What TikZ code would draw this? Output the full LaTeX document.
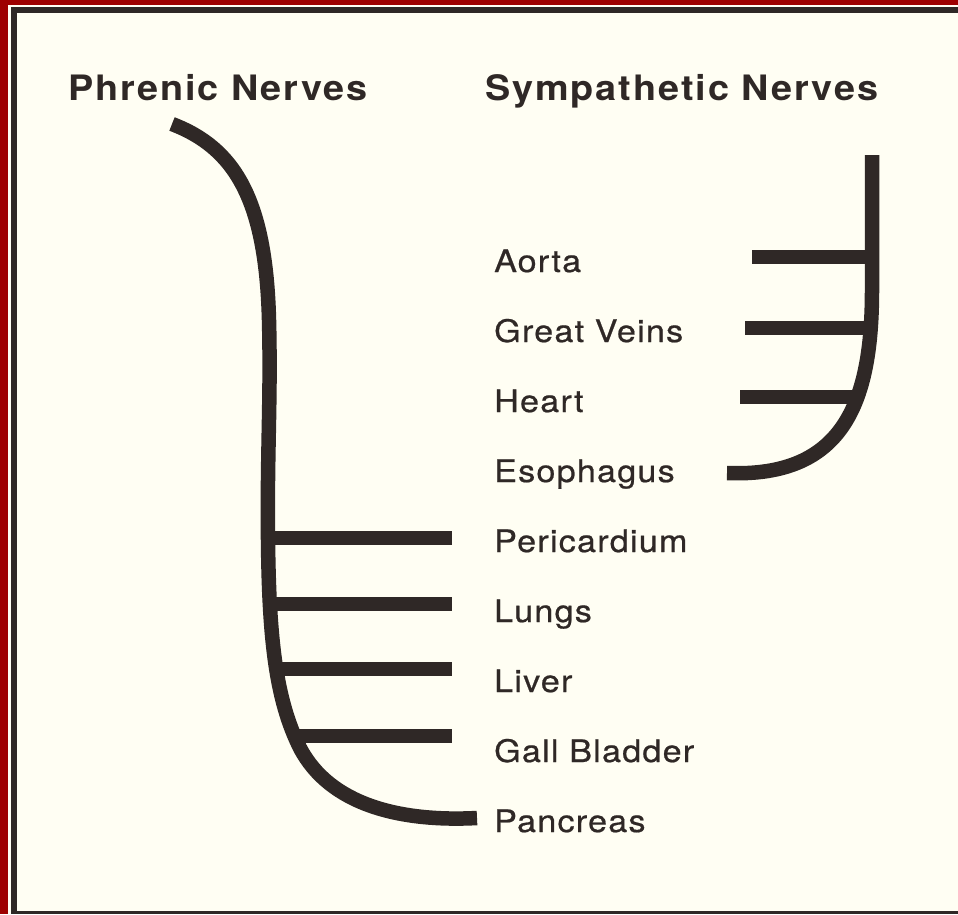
\documentclass[tikz,border=0pt]{standalone}
\usepackage{fontspec}
\newfontfamily\labfont{TeX Gyre Heros}[LetterSpace=4,FakeStretch=1.1,FakeBold=0.6]
\newfontfamily\headfont{TeX Gyre Heros}[LetterSpace=5.5,FakeStretch=1.08]
\definecolor{frame}{HTML}{9E0000}
\definecolor{paper}{HTML}{FFFEF3}
\definecolor{ink}{HTML}{2F2826}
\begin{document}
\begin{tikzpicture}[x=1pt,y=-1pt,
  nerve/.style={draw=ink,line width=14.5pt,line cap=butt},
  lab/.style={anchor=base west,inner sep=0pt,text=ink,font=\labfont\fontsize{31}{31}\selectfont},
  head/.style={anchor=base west,inner sep=0pt,text=ink,font=\headfont\bfseries\fontsize{35}{35}\selectfont}]
\useasboundingbox (0,0) rectangle (958,914);
% frame
\fill[frame] (0,0) rectangle (958,914);
\fill[paper] (8,5) rectangle (958,914);
\fill[ink] (11,7) rectangle (958,914);
\fill[paper] (17,13) rectangle (958,911);
% headings
\node[head] (ph) at (68,100) {Phrenic Nerves};
\node[head] (sy) at (485,100) {Sympathetic Nerves};
% labels
\foreach \t [count=\i from 0] in {Aorta,Great Veins,Heart,Esophagus,Pericardium,Lungs,Liver,Gall Bladder,Pancreas}
  \node[lab] (l\i) at (494,272+70*\i) {\t};
% phrenic nerve
\draw[nerve] (172,124) .. controls (235,148) and (266,200) .. (269,320)
  .. controls (271,400) and (267,450) .. (268,540)
  .. controls (269,640) and (276,700) .. (300,748)
  .. controls (330,805) and (400,822) .. (477,818);
\draw[nerve] (268,538) -- (452,538);
\draw[nerve] (270,604) -- (452,604);
\draw[nerve] (276,669) -- (452,669);
\draw[nerve] (293,736) -- (452,736);
% sympathetic nerve
\draw[nerve] (872,155) -- (872,290) .. controls (872,400) and (845,478) .. (727,473);
\draw[nerve] (752,257) -- (872,257);
\draw[nerve] (745,328) -- (870,328);
\draw[nerve] (740,397) -- (859,397);
\end{tikzpicture}
\end{document}
